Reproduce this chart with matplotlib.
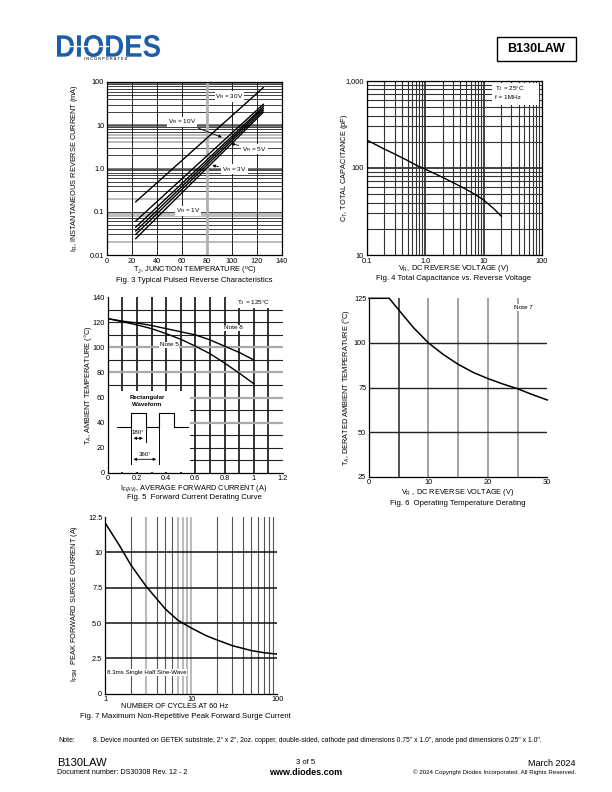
import numpy as np
import matplotlib
matplotlib.use('Agg')
import matplotlib.pyplot as plt
from matplotlib.patches import Rectangle, PathPatch
from matplotlib.textpath import TextPath
from matplotlib.font_manager import FontProperties
from matplotlib.transforms import Affine2D

plt.rcParams['font.family'] = ['Liberation Sans', 'DejaVu Sans']
plt.rcParams['mathtext.fontset'] = 'custom'
plt.rcParams['mathtext.rm'] = 'Liberation Sans'
plt.rcParams['mathtext.it'] = 'Liberation Sans:italic'
plt.rcParams['mathtext.bf'] = 'Liberation Sans:bold'

W, H = 612, 792
TICK_FS = 5.3
LAB_FS = 5.3

# ---- Fig 3: typical pulsed reverse characteristics (mA, log) ----
ir_temp = [23, 125]
ir_30v = [0.17, 74]
ir_10v = [0.061, 30.5]
ir_8v = [0.044, 26.9]
ir_5v = [0.036, 24.6]
ir_3v = [0.030, 22.2]
ir_1v = [0.024, 20.0]

# ---- Fig 4: total capacitance vs reverse voltage ----
cap_vr = [0.1, 0.2, 0.3, 0.5, 0.7, 1, 2, 3, 5, 7, 10, 15, 20]
cap_pf = [210, 165, 145, 122, 108, 97, 78, 68, 57, 50, 43, 34, 28]

# ---- Fig 5: forward current derating ----
if_av = [0, 0.1, 0.2, 0.3, 0.4, 0.5, 0.6, 0.7, 0.8, 0.9, 1.0]
ta_note8 = [123, 121, 119.5, 117.5, 115, 112.5, 110, 106, 101, 96, 90]
ta_note5 = [123, 120.5, 118, 115, 111, 106.5, 101, 95, 87.5, 79.5, 71]

# ---- Fig 6: operating temperature derating ----
vr_derate = [0, 3.4, 5, 7.5, 10, 12.5, 15, 17.5, 20, 22.5, 25, 27.5, 30]
ta_derate = [125, 125, 118.5, 108.5, 100, 93.5, 88, 83.5, 80, 77, 74.3, 71, 68]

# ---- Fig 7: max non-repetitive peak forward surge current ----
cycles = [1, 1.5, 2, 3, 4, 5, 7, 10, 15, 20, 30, 50, 70, 100]
ifsm = [12.1, 10.4, 9.1, 7.6, 6.7, 6.0, 5.2, 4.65, 4.1, 3.8, 3.4, 3.05, 2.9, 2.8]


def box(l, t, r, b):
    return [l / W, 1 - b / H, (r - l) / W, (b - t) / H]


def log_values(lo, hi):
    vals = []
    e = int(np.floor(np.log10(lo)))
    while 10 ** e <= hi:
        for k in range(1, 10):
            v = k * 10 ** e
            if lo <= v <= hi:
                vals.append(v)
        e += 1
    return vals


def style_axis(ax, spines=('left', 'bottom', 'top', 'right')):
    for s in ax.spines:
        ax.spines[s].set_visible(s in spines)
        ax.spines[s].set_linewidth(0.9)
    ax.tick_params(length=0, pad=2, labelsize=TICK_FS)


fig = plt.figure(figsize=(W / 100, H / 100), dpi=100)

# overlay in page pixels for page text
ov = fig.add_axes([0, 0, 1, 1], zorder=-1)
ov.set_xlim(0, W)
ov.set_ylim(H, 0)
ov.axis('off')


def ptext(x, y, s, **kw):
    kw.setdefault('fontsize', LAB_FS)
    kw.setdefault('ha', 'center')
    kw.setdefault('va', 'center')
    ov.text(x, y, s, **kw)


# header logo
tp = TextPath((0, 0), 'DIODES', size=10, prop=FontProperties(family='Liberation Sans', weight='bold'))
ext = tp.get_extents()
sx = (160 - 57) / ext.width
sy = (57 - 35) / ext.height
tr = Affine2D().translate(-ext.x0, -ext.y0).scale(sx, -sy).translate(57, 57)
ov.add_patch(PathPatch(tr.transform_path(tp), facecolor='#1d5ea8', edgecolor='none'))
ov.plot([62, 108], [46, 46], color='white', lw=1.0)
ptext(106, 59.5, 'I N C O R P O R A T E D', fontsize=2.8, color='#444', fontweight='bold')
ov.add_patch(Rectangle((497, 37), 79, 24, facecolor='none', edgecolor='black', lw=1))
ptext(536.5, 49, 'B130LAW', fontsize=9, fontweight='bold')

# ================= Fig 3 =================
ax3 = fig.add_axes(box(107, 82, 282, 255))
ax3.set_yscale('log')
ax3.set_xlim(0, 140)
ax3.set_ylim(0.01, 100)
heavy3 = [1.0, 10, 100]
grey3 = [0.02, 0.08, 0.09, 0.2, 4, 5, 6]
for v in log_values(0.01, 100):
    if any(np.isclose(v, h) for h in heavy3):
        ax3.axhline(v, color='#555', lw=1.8, zorder=1)
    elif any(np.isclose(v, g) for g in grey3):
        ax3.axhline(v, color='#b0b0b0', lw=1.2, zorder=1)
    else:
        ax3.axhline(v, color='#222', lw=0.6, zorder=1)
for v in range(20, 140, 20):
    if v == 80:
        ax3.axvline(v, color='#b0b0b0', lw=2, zorder=1)
    else:
        ax3.axvline(v, color='#222', lw=0.7, zorder=1)
for ser in [ir_30v, ir_10v, ir_8v, ir_5v, ir_3v, ir_1v]:
    ax3.plot(ir_temp, ser, color='black', lw=1.0, zorder=3)
ax3.set_xticks(range(0, 141, 20))
ax3.set_yticks([0.01, 0.1, 1, 10, 100])
ax3.set_yticklabels(['0.01', '0.1', '1.0', '10', '100'])
ax3.yaxis.set_minor_locator(matplotlib.ticker.NullLocator())
style_axis(ax3)
lbl = dict(fontsize=4.6, ha='center', va='center', zorder=4,
           bbox=dict(facecolor='white', edgecolor='none', pad=0.6))
arr = dict(arrowstyle='-|>', color='black', lw=0.6, mutation_scale=4)
ax3.text(98, 46, r'V$_\mathregular{R}$ = 30V', **lbl)
ax3.annotate(r'V$_\mathregular{R}$ = 10V', xy=(94, 5.0), xytext=(60, 12), arrowprops=arr, **lbl)
ax3.annotate(r'V$_\mathregular{R}$ = 5V', xy=(97, 3.9), xytext=(118, 2.8), arrowprops=arr, **lbl)
ax3.annotate(r'V$_\mathregular{R}$ = 3V', xy=(82, 1.2), xytext=(102, 0.97), arrowprops=arr, **lbl)
ax3.text(65, 0.104, r'V$_\mathregular{R}$ = 1V', **lbl)
ptext(74, 168.5, r'I$_\mathregular{R}$, INSTANTANEOUS REVERSE CURRENT (mA)', rotation=90)
ptext(194.5, 271.5, r'T$_\mathregular{J}$, JUNCTION TEMPERATURE ($^\mathregular{o}$C)')
ptext(194.5, 281, 'Fig. 3 Typical Pulsed Reverse Characteristics', fontsize=5.6)

# ================= Fig 4 =================
ax4 = fig.add_axes(box(366.7, 81, 542, 255))
ax4.set_xscale('log')
ax4.set_yscale('log')
ax4.set_xlim(0.1, 100)
ax4.set_ylim(10, 1000)
for v in log_values(0.1, 100):
    ax4.axvline(v, color='#333', lw=1.3 if v in (1, 10) else 0.8, zorder=1)
for v in log_values(10, 1000):
    ax4.axhline(v, color='#333', lw=1.3 if v == 100 else 0.8, zorder=1)
ax4.plot(cap_vr, cap_pf, color='black', lw=1.0, zorder=3)
ax4.set_xticks([0.1, 1, 10, 100])
ax4.set_xticklabels(['0.1', '1.0', '10', '100'])
ax4.set_yticks([10, 100, 1000])
ax4.set_yticklabels(['10', '100', '1,000'])
ax4.xaxis.set_minor_locator(matplotlib.ticker.NullLocator())
ax4.yaxis.set_minor_locator(matplotlib.ticker.NullLocator())
style_axis(ax4)
ax4.add_patch(Rectangle((492, 83), 47, 22, transform=ov.transData, facecolor='white',
                        edgecolor='none', zorder=4))
ax4.text(495, 89, r'T$_\mathregular{J}$ = 25°C', transform=ov.transData, fontsize=4.6,
         va='center', zorder=5)
ax4.text(495, 97.5, 'f = 1MHz', transform=ov.transData, fontsize=4.6, va='center', zorder=5)
ptext(345, 168, r'C$_\mathregular{T}$, TOTAL CAPACITANCE (pF)', rotation=90)
ptext(454, 269, r'V$_\mathregular{R}$, DC REVERSE VOLTAGE (V)')
ptext(454, 279, 'Fig. 4 Total Capacitance vs. Reverse Voltage', fontsize=5.6)

# ================= Fig 5 =================
ax5 = fig.add_axes(box(107.7, 297.3, 283, 472.7))
ax5.set_xlim(0, 1.2)
ax5.set_ylim(0, 140)
for v in np.arange(1, 12) / 10:
    ax5.axvline(v, color='#111', lw=1.2, zorder=1)
for v in range(10, 140, 10):
    if v in (40, 60, 80, 100):
        ax5.axhline(v, color='#aaa', lw=1.6, zorder=1)
    else:
        ax5.axhline(v, color='#222', lw=0.8, zorder=1)
ax5.add_patch(Rectangle((0.005, 0.5), 0.555, 65, facecolor='white', edgecolor='none', zorder=1.5))
ax5.plot(if_av, ta_note8, color='black', lw=1.0, zorder=3)
ax5.plot(if_av, ta_note5, color='black', lw=1.0, zorder=3)
ax5.set_xticks(np.arange(0, 1.21, 0.2))
ax5.set_xticklabels(['0', '0.2', '0.4', '0.6', '0.8', '1', '1.2'])
ax5.set_yticks(range(0, 141, 20))
style_axis(ax5, ('left', 'bottom'))
ax5.text(1.0, 136, r'T$_\mathregular{J}$ = 125°C', **lbl)
ax5.text(0.86, 115.5, 'Note 8', **lbl)
ax5.text(0.42, 102, 'Note 5', **lbl)
# inset rectangular waveform sketch (page pixels)
wave_x = [116.7, 130.7, 130.7, 145.7, 145.7, 159, 159, 174.3, 174.3, 188.3]
wave_y = [426.7, 426.7, 413.3, 413.3, 426.7, 426.7, 413.3, 413.3, 426.7, 426.7]
ax5.plot(wave_x, wave_y, color='black', lw=0.8, transform=ov.transData, zorder=3)
ax5.plot([130.7, 130.7], [426.7, 463.5], color='black', lw=0.7, transform=ov.transData, zorder=3)
ax5.plot([145.7, 145.7], [426.7, 442], color='black', lw=0.7, transform=ov.transData, zorder=3)
ax5.plot([159, 159], [426.7, 463.5], color='black', lw=0.7, transform=ov.transData, zorder=3)
darr = dict(arrowstyle='<|-|>', color='black', lw=0.6, mutation_scale=4)
ax5.annotate('', xy=(130.7, 438.3), xytext=(145.7, 438.3), xycoords=ov.transData,
             textcoords=ov.transData, arrowprops=darr, zorder=3)
ax5.annotate('', xy=(130.7, 459.3), xytext=(159, 459.3), xycoords=ov.transData,
             textcoords=ov.transData, arrowprops=darr, zorder=3)
ax5.text(137.5, 432.5, '180°', transform=ov.transData, fontsize=4.4, ha='center', va='center', zorder=4)
ax5.text(145, 454.3, '360°', transform=ov.transData, fontsize=4.4, ha='center', va='center', zorder=4)
ax5.text(147, 398, 'Rectangular', transform=ov.transData, fontsize=4.4, ha='center', va='center',
         fontweight='bold', zorder=4)
ax5.text(147, 405, 'Waveform', transform=ov.transData, fontsize=4.4, ha='center', va='center',
         fontweight='bold', zorder=4)
ptext(87.5, 385, r'T$_\mathregular{A}$, AMBIENT TEMPERATURE (°C)', rotation=90)
ptext(194, 488.5, r'I$_\mathregular{F(AV)}$, AVERAGE FORWARD CURRENT (A)')
ptext(194, 497.5, 'Fig. 5  Forward Current Derating Curve', fontsize=5.6)

# ================= Fig 6 =================
ax6 = fig.add_axes(box(369, 298.3, 547.3, 476.7))
ax6.set_xlim(0, 30)
ax6.set_ylim(25, 125)
for v in range(5, 30, 5):
    ax6.axvline(v, color='#222' if v == 5 else '#888', lw=1.1, zorder=1)
for v in (50, 75, 100):
    ax6.axhline(v, color='#222', lw=1.0, zorder=1)
ax6.plot(vr_derate, ta_derate, color='black', lw=1.1, zorder=3, clip_on=False)
ax6.set_xticks([0, 10, 20, 30])
ax6.set_yticks([25, 50, 75, 100, 125])
style_axis(ax6, ('left', 'bottom'))
ax6.text(26, 120, 'Note 7', **lbl)
ptext(346, 387, r'T$_\mathregular{A}$, DERATED AMBIENT TEMPERATURE (°C)', rotation=90)
ptext(458, 492.5, r'V$_\mathregular{R}$ , DC REVERSE VOLTAGE (V)')
ptext(458, 503.5, 'Fig. 6  Operating Temperature Derating', fontsize=5.6)

# ================= Fig 7 =================
ax7 = fig.add_axes(box(105, 517, 277.3, 693.7))
ax7.set_xscale('log')
ax7.set_xlim(1, 100)
ax7.set_ylim(0, 12.5)
light7 = [3, 7, 8, 9, 10]
for v in log_values(2, 100):
    if v in light7:
        ax7.axvline(v, color='#bbb', lw=1.5, zorder=1)
    else:
        ax7.axvline(v, color='#555', lw=0.8, zorder=1)
for v in (2.5, 5.0, 7.5, 10):
    ax7.axhline(v, color='#111', lw=1.1, zorder=1)
ax7.plot(cycles, ifsm, color='black', lw=1.1, zorder=3)
ax7.set_xticks([1, 10, 100])
ax7.set_xticklabels(['1', '10', '100'])
ax7.xaxis.set_minor_locator(matplotlib.ticker.NullLocator())
ax7.set_yticks([0, 2.5, 5.0, 7.5, 10, 12.5])
ax7.set_yticklabels(['0', '2.5', '5.0', '7.5', '10', '12.5'])
style_axis(ax7, ('left', 'bottom'))
ax7.text(146.7, 672.3, '8.3ms Single Half Sine-Wave', transform=ov.transData, fontsize=4.4,
         ha='center', va='center', zorder=4,
         bbox=dict(facecolor='white', edgecolor='none', pad=0.6))
ptext(75, 603, r'I$_\mathregular{FSM}$  PEAK FORWARD SURGE CURRENT (A)', rotation=90)
ptext(175, 706.5, 'NUMBER OF CYCLES AT 60 Hz')
ptext(185, 716, 'Fig. 7 Maximum Non-Repetitive Peak Forward Surge Current', fontsize=5.6)

# footer
ptext(58, 741, 'Note:', fontsize=5, ha='left')
ptext(93, 741, '8. Device mounted on GETEK substrate, 2" x 2", 2oz. copper, double-sided, '
      'cathode pad dimensions 0.75" x 1.0", anode pad dimensions 0.25" x 1.0".', fontsize=4.9, ha='left')
ptext(57, 763, 'B130LAW', fontsize=8, ha='left')
ptext(57, 773, 'Document number: DS30308 Rev. 12 - 2', fontsize=5.2, ha='left')
ptext(306, 762.5, '3 of 5', fontsize=5.5)
ptext(306, 772.5, 'www.diodes.com', fontsize=6.5, fontweight='bold')
ptext(576, 763, 'March 2024', fontsize=6.5, ha='right')
ptext(576, 772.5, '© 2024 Copyright Diodes Incorporated. All Rights Reserved.', fontsize=4.4, ha='right')

fig.savefig('out.png', dpi=100)
